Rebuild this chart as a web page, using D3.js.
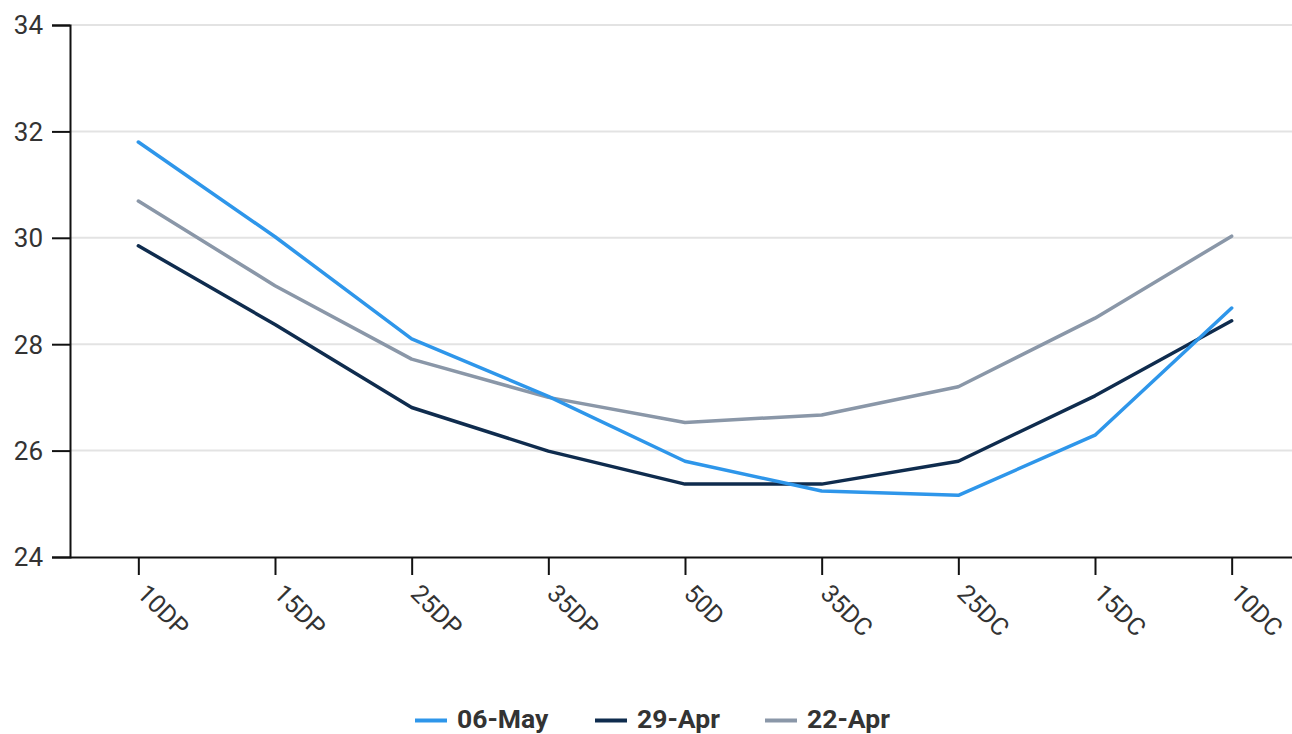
<!DOCTYPE html>
<html>
<head>
<meta charset="utf-8">
<script src="https://cdn.jsdelivr.net/npm/d3@7"></script>
<style>
  html, body { margin: 0; padding: 0; background: #fff; }
  svg { display: block; font-family: Roboto, "Noto Sans", sans-serif; }
</style>
</head>
<body>
<svg id="chart" width="1292" height="734"></svg>
<script>
// Volatility smile by delta bucket
const categories = ["10DP", "15DP", "25DP", "35DP", "50D", "35DC", "25DC", "15DC", "10DC"];
const seriesNames = ["06-May", "29-Apr", "22-Apr"];
const may06 = [31.80, 30.02, 28.10, 27.02, 25.80, 25.24, 25.16, 26.29, 28.68];
const apr29 = [29.85, 28.37, 26.81, 25.99, 25.37, 25.37, 25.80, 27.03, 28.44];
const apr22 = [30.69, 29.10, 27.72, 27.00, 26.53, 26.67, 27.20, 28.49, 30.03];
const yTicks = [24, 26, 28, 30, 32, 34];
const colors = ["#2e96ea", "#0f2c4e", "#8a97a8"];

const series = [may06, apr29, apr22].map((values, i) => ({
  name: seriesNames[i], values, color: colors[i]
}));

const svg = d3.select("#chart");
const plotLeft = 70, plotRight = 1300, plotTop = 25, plotBottom = 557;

const x = d3.scalePoint().domain(categories).range([plotLeft, plotRight]).padding(0.5);
const y = d3.scaleLinear().domain([24, 34]).range([plotBottom, plotTop]);

// horizontal grid
svg.append("g")
  .selectAll("line")
  .data(yTicks.slice(1))
  .join("line")
  .attr("x1", plotLeft).attr("x2", 1292)
  .attr("y1", d => y(d)).attr("y2", d => y(d))
  .attr("stroke", "#e3e3e3").attr("stroke-width", 2);

// y axis
const yAxis = svg.append("g")
  .attr("transform", `translate(${plotLeft},0)`)
  .call(d3.axisLeft(y).tickValues(yTicks).tickSize(18).tickPadding(9));
yAxis.select(".domain").attr("stroke", "#111").attr("stroke-width", 2);
yAxis.selectAll(".tick line").attr("stroke", "#111").attr("stroke-width", 2);
yAxis.selectAll(".tick text")
  .attr("fill", "#333").style("font-size", "26px").style("font-family", "Roboto")
  .attr("dy", "0.34em");

// x axis
const xAxis = svg.append("g")
  .attr("transform", `translate(0,${plotBottom})`)
  .call(d3.axisBottom(x).tickSize(18).tickPadding(8));
xAxis.select(".domain").attr("stroke", "#111").attr("stroke-width", 2)
  .attr("d", `M${plotLeft},0.5H1292`);
xAxis.selectAll(".tick line").attr("stroke", "#111").attr("stroke-width", 2);
xAxis.selectAll(".tick text")
  .attr("fill", "#333").style("font-size", "25px").style("font-family", "Roboto")
  .attr("text-anchor", "start")
  .attr("dy", "0")
  .attr("transform", "translate(-3,38) rotate(45)")
  .attr("y", 0).attr("x", 0);

// lines
const line = d3.line()
  .x((d, i) => x(categories[i]))
  .y(d => y(d));

svg.append("g")
  .selectAll("path")
  .data(series.slice().reverse())
  .join("path")
  .attr("d", d => line(d.values))
  .attr("fill", "none")
  .attr("stroke", d => d.color)
  .attr("stroke-width", 3.5)
  .attr("stroke-linejoin", "round")
  .attr("stroke-linecap", "round");

// legend
const legendX = [415, 595, 765];
const legend = svg.append("g").attr("transform", "translate(0,720.5)");
const items = legend.selectAll("g").data(series).join("g")
  .attr("transform", (d, i) => `translate(${legendX[i]},0)`);
items.append("line")
  .attr("x1", 0).attr("x2", 32).attr("y1", 0).attr("y2", 0)
  .attr("stroke", d => d.color).attr("stroke-width", 4);
items.append("text")
  .attr("x", 42).attr("y", 7.5)
  .attr("fill", "#333")
  .style("font-size", "26.5px").style("font-weight", "bold").style("font-family", "Roboto")
  .text(d => d.name);
</script>
</body>
</html>
